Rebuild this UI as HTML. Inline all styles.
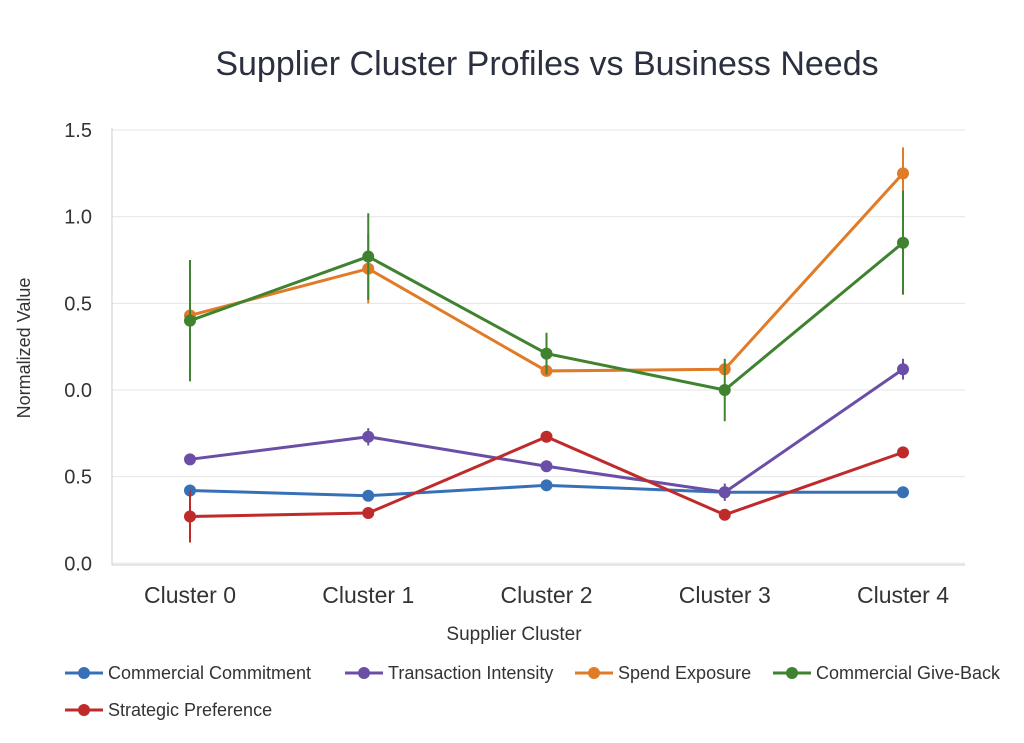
<!DOCTYPE html>
<html><head><meta charset="utf-8"><style>
body{margin:0;background:#fff;font-family:"Liberation Sans",sans-serif;}
svg{display:block}
</style></head><body>
<svg id="chart" width="1024" height="743">
<text x="547" y="75" text-anchor="middle" font-size="34" fill="#2b3040">Supplier Cluster Profiles vs Business Needs</text>
<text x="30" y="348" text-anchor="middle" font-size="18" fill="#333" transform="rotate(-90 30 348)">Normalized Value</text>
<text x="514" y="640" text-anchor="middle" font-size="19" fill="#333">Supplier Cluster</text>
<g id="grid"></g><g id="marks"></g><g id="legend"></g>
</svg>
<script>
const categories = ["Cluster 0","Cluster 1","Cluster 2","Cluster 3","Cluster 4"];
const tickValues = [1.5,1.0,0.5,0.0,-0.5,-1.0];
const tickLabels = ["1.5","1.0","0.5","0.0","0.5","0.0"];
const seriesNames = ["Commercial Commitment","Transaction Intensity","Spend Exposure","Commercial Give-Back","Strategic Preference"];
const commitment = [-0.58,-0.61,-0.55,-0.59,-0.59];
const commitmentErr = [0.01,0.01,0.01,0.01,0.01];
const intensity = [-0.40,-0.27,-0.44,-0.59,0.12];
const intensityErr = [0.03,0.05,0.03,0.05,0.06];
const spend = [0.43,0.70,0.11,0.12,1.25];
const spendErr = [0.05,0.2,0.03,0.02,0.15];
const giveback = [0.40,0.77,0.21,0.0,0.85];
const givebackErr = [0.35,0.25,0.12,0.18,0.3];
const strategic = [-0.73,-0.71,-0.27,-0.72,-0.36];
const strategicErr = [0.15,0.03,0.03,0.02,0.03];
const colors = ["#3671b8","#6b4ea6","#e07b27","#3f822f","#bf2a2a"];
const series = [commitment,intensity,spend,giveback,strategic];
const errs = [commitmentErr,intensityErr,spendErr,givebackErr,strategicErr];
const NS="http://www.w3.org/2000/svg";
const yS = v => 390 - v*173.3;
const xS = i => 190 + i*178.25;
function mk(tag,attrs,parent){const e=document.createElementNS(NS,tag);for(const k in attrs)e.setAttribute(k,attrs[k]);parent.appendChild(e);return e;}
const grid=document.getElementById('grid'), marks=document.getElementById('marks'), legend=document.getElementById('legend');
tickValues.forEach((v,i)=>{
  const l=mk('line',{x1:112,x2:965,y1:yS(v),y2:yS(v),stroke:'#e4e4e4'},grid);
  
  
  const t=mk('text',{x:92,y:yS(v)+7,'text-anchor':'end','font-size':20,fill:'#333'},grid);
  t.textContent=tickLabels[i];
  
  
});
const ax=mk('line',{x1:112,x2:112,y1:128,y2:565,stroke:'#ccc'},grid);


const ax2=mk('line',{x1:112,x2:965,y1:565,y2:565,stroke:'#ccc'},grid);


categories.forEach((c,i)=>{
  const t=mk('text',{x:xS(i),y:603,'text-anchor':'middle','font-size':23,fill:'#333'},grid);
  t.textContent=c;
  
  
});
series.forEach((s,k)=>{
  const g=mk('g',{},marks);
  
  
  const p=mk('polyline',{points:s.map((v,i)=>xS(i)+','+yS(v)).join(' '),fill:'none',stroke:colors[k],'stroke-width':3},g);
  
  
  s.forEach((v,i)=>{
    const e=mk('line',{x1:xS(i),x2:xS(i),y1:yS(v+errs[k][i]),y2:yS(v-errs[k][i]),stroke:colors[k],'stroke-width':2},g);
    
    
    const c=mk('circle',{cx:xS(i),cy:yS(v),r:6,fill:colors[k]},g);
    
    
  });
});
const lx=[65,345,575,773,65], ly=[673,673,673,673,710];
seriesNames.forEach((n,k)=>{
  const g=mk('g',{},legend);
  
  
  mk('line',{x1:lx[k],x2:lx[k]+38,y1:ly[k],y2:ly[k],stroke:colors[k],'stroke-width':3},g);
  mk('circle',{cx:lx[k]+19,cy:ly[k],r:6,fill:colors[k]},g);
  const t=mk('text',{x:lx[k]+43,y:ly[k]+6,'font-size':18,fill:'#333'},g);
  t.textContent=n;
});
</script>
</body></html>
